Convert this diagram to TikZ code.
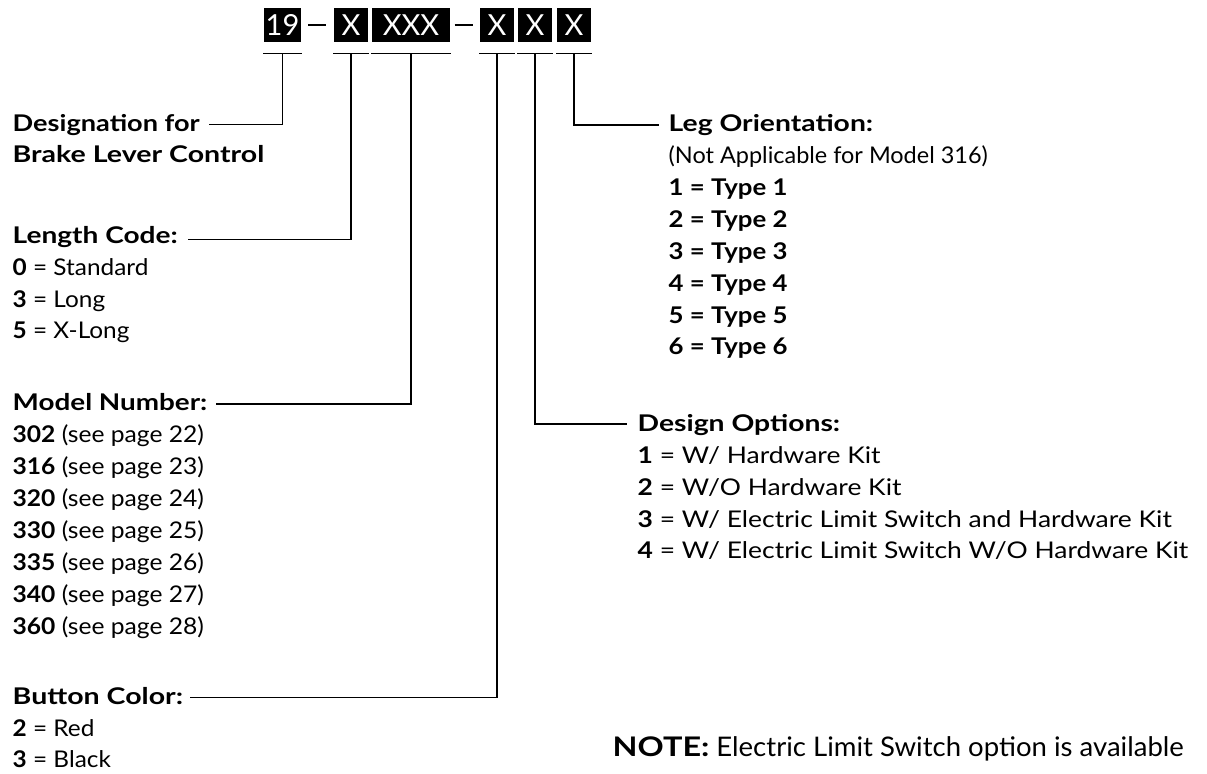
\documentclass[tikz,border=0pt]{standalone}
\usepackage{fontspec}
\setmainfont{Lato}
\usetikzlibrary{calc}
\newcommand\hsc[2]{\scalebox{#1}[1]{#2}}
\begin{document}
\begin{tikzpicture}[x=0.5pt,y=-0.5pt,line width=0.7pt,
  lbl/.style={anchor=base west,inner sep=0pt,font=\fontsize{11.5}{14}\selectfont},
  hd/.style={lbl,font=\fontsize{11.5}{14}\selectfont\bfseries},
  notestyle/.style={anchor=base west,inner sep=0pt,font=\fontsize{13.5}{16}\selectfont},
  codebox/.style={fill=black,text=white,inner sep=0pt,minimum height=17pt,font=\fontsize{14.5}{16}\selectfont},
  dashtxt/.style={inner sep=0pt}]
\useasboundingbox (0,0) rectangle (1207,774);

% code boxes
\node[codebox,minimum width=18.5pt] (b19) at (282.5,25) {19};
\node[dashtxt] (d1) at (317,25) {\rule{9pt}{1pt}};
\node[codebox,minimum width=17pt] (bA) at (351,25) {X};
\node[codebox,minimum width=39pt] (bB) at (411,25) {XXX};
\node[dashtxt] (d2) at (463.5,25) {\rule{9pt}{1pt}};
\node[codebox,minimum width=17pt] (bC) at (497,25) {X};
\node[codebox,minimum width=17pt] (bD) at (535,25) {X};
\node[codebox,minimum width=17pt] (bE) at (574,25) {X};

% underlines
\foreach \b in {b19,bA,bB,bC,bD,bE}{
  \draw ([yshift=-5.5pt]\b.south west) -- ([yshift=-5.5pt]\b.south east);
  \coordinate (t\b) at ([yshift=-5.5pt]\b.south);
}

% left labels
\node[hd] (des1) at (12,131.7) {\hsc{1.18}{Designation for}};
\node[hd] (des2) at (12,162.7) {\hsc{1.24}{Brake Lever Control}};

\node[hd] (len) at (12,244) {\hsc{1.22}{Length Code:}};
\node[lbl] (len0) at (12,276) {\hsc{1.06}{\textbf{0} = Standard}};
\node[lbl] (len3) at (12,307.5) {\hsc{1.06}{\textbf{3} = Long}};
\node[lbl] (len5) at (12,339) {\hsc{1.06}{\textbf{5} = X-Long}};

\node[hd] (mod) at (12,410.7) {\hsc{1.21}{Model Number:}};
\node[lbl] (m302) at (12,442.7) {\hsc{1.07}{\textbf{302} (see page 22)}};
\node[lbl] (m316) at (12,474.7) {\hsc{1.07}{\textbf{316} (see page 23)}};
\node[lbl] (m320) at (12,506.7) {\hsc{1.07}{\textbf{320} (see page 24)}};
\node[lbl] (m330) at (12,538.7) {\hsc{1.07}{\textbf{330} (see page 25)}};
\node[lbl] (m335) at (12,570.7) {\hsc{1.07}{\textbf{335} (see page 26)}};
\node[lbl] (m340) at (12,602.7) {\hsc{1.07}{\textbf{340} (see page 27)}};
\node[lbl] (m360) at (12,634.7) {\hsc{1.07}{\textbf{360} (see page 28)}};

\node[hd] (but) at (12,705) {\hsc{1.24}{Button Color:}};
\node[lbl] (but2) at (12,737) {\hsc{1.06}{\textbf{2} = Red}};
\node[lbl] (but3) at (12,768) {\hsc{1.06}{\textbf{3} = Black}};

% right labels
\node[hd] (leg) at (668,131.7) {\hsc{1.23}{Leg Orientation:}};
\node[lbl] (legn) at (668,163.3) {\hsc{1.02}{(Not Applicable for Model 316)}};
\node[hd] (ty1) at (668,195.5) {\hsc{1.12}{1 = Type 1}};
\node[hd] (ty2) at (668,227.4) {\hsc{1.12}{2 = Type 2}};
\node[hd] (ty3) at (668,259.3) {\hsc{1.12}{3 = Type 3}};
\node[hd] (ty4) at (668,291.2) {\hsc{1.12}{4 = Type 4}};
\node[hd] (ty5) at (668,323.1) {\hsc{1.12}{5 = Type 5}};
\node[hd] (ty6) at (668,355) {\hsc{1.12}{6 = Type 6}};

\node[hd] (dop) at (637,431.7) {\hsc{1.23}{Design Options:}};
\node[lbl] (do1) at (637,463.3) {\hsc{1.15}{\textbf{1} = W/ Hardware Kit}};
\node[lbl] (do2) at (637,495.2) {\hsc{1.15}{\textbf{2} = W/O Hardware Kit}};
\node[lbl] (do3) at (637,527.1) {\hsc{1.15}{\textbf{3} = W/ Electric Limit Switch and Hardware Kit}};
\node[lbl] (do4) at (637,559) {\hsc{1.15}{\textbf{4} = W/ Electric Limit Switch W/O Hardware Kit}};

\node[notestyle] (note) at (612,756.7) {\hsc{1.2}{\textbf{NOTE:}} \hsc{1.02}{Electric Limit Switch option is available}};

% connector ends
\coordinate (eDes) at (209,124.3);
\coordinate (eLen) at (188,239.3);
\coordinate (eMod) at (216,404);
\coordinate (eBut) at (190,697.3);
\coordinate (eLeg) at (659,125);
\coordinate (eDop) at (627,424);

% connectors
\draw (tb19) |- (eDes);
\draw (tbA) |- (eLen);
\draw (tbB) |- (eMod);
\draw (tbC) |- (eBut);
\draw (tbD) |- (eDop);
\draw (tbE) |- (eLeg);
\end{tikzpicture}
\end{document}
